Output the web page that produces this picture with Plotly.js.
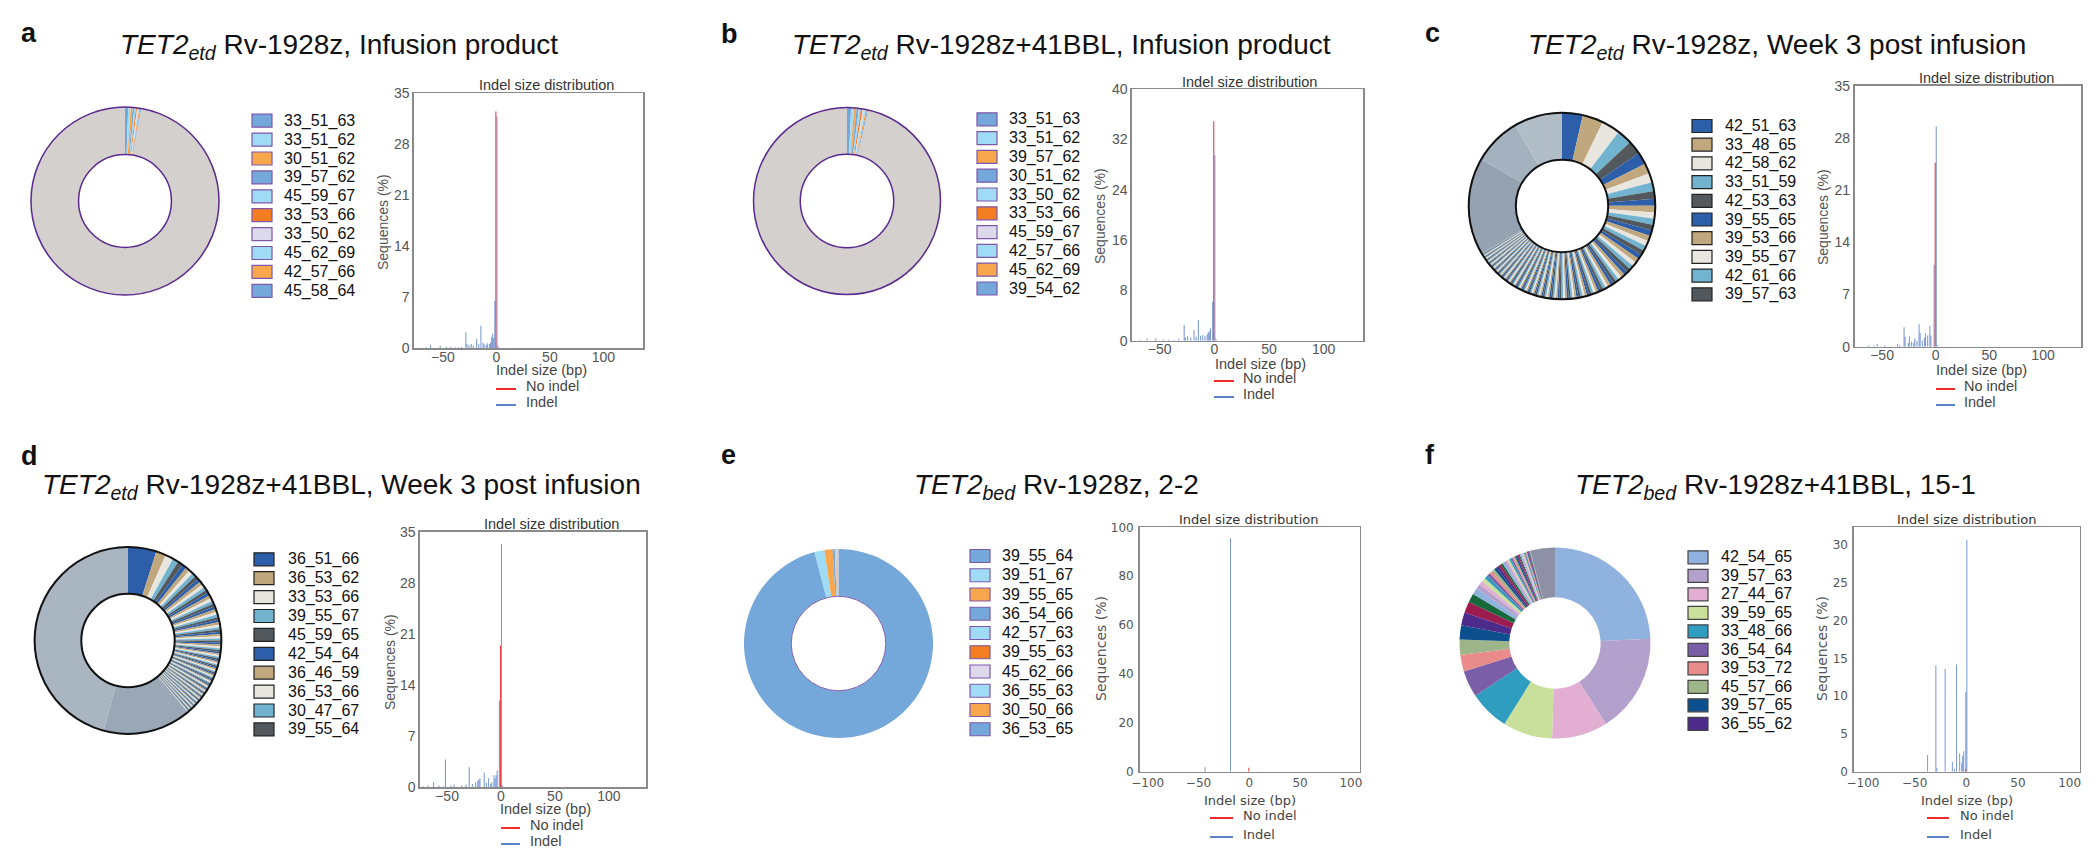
<!DOCTYPE html>
<html><head><meta charset="utf-8">
<script src="https://cdn.plot.ly/plotly-3.0.1.min.js"></script>
<style>html,body{margin:0;padding:0;background:#fff}#chart{width:2100px;height:865px}</style>
</head><body><div id="chart"></div>
<script>
// ================= DATA =================
// ---- panel a : TET2etd Rv-1928z, Infusion product ----
const a_pie_labels = ['33_51_63','33_51_62','30_51_62','39_57_62','45_59_67','33_53_66','33_50_62','45_62_69','42_57_66','45_58_64'];
const a_pie_values = [0.55,0.4,0.35,0.3,0.25,0.22,0.2,0.18,0.16,0.15];
const a_pie_minor = [];
const a_pie_rest = [97.24];
const a_indel_x = [-66,-62,-53,-47,-43,-39,-36,-33,-29,-28,-26,-24,-22,-19,-17,-15,-13,-12,-10,-9,-7,-6,-5,-4,-3,-2,0,1];
const a_indel_y = [0.15,0.45,0.35,0.2,0.2,0.15,0.15,0.2,2.2,0.6,0.45,0.6,0.4,1.3,0.6,3.1,0.8,0.6,0.45,0.7,0.6,0.8,1.5,2.0,1.4,6.5,31.8,0.35];
const a_noindel_x = [0];
const a_noindel_y = [32.5];

// ---- panel b : TET2etd Rv-1928z+41BBL, Infusion product ----
const b_pie_labels = ['33_51_63','33_51_62','39_57_62','30_51_62','33_50_62','33_53_66','45_59_67','42_57_66','45_62_69','39_54_62'];
const b_pie_values = [0.7,0.5,0.45,0.4,0.35,0.3,0.28,0.25,0.22,0.2];
const b_pie_minor = [];
const b_pie_rest = [96.35];
const b_indel_x = [-68,-62,-54,-47,-42,-37,-33,-28,-27,-25,-22,-19,-17,-15,-13,-11,-9,-7,-6,-5,-4,-2,0,1];
const b_indel_y = [0.15,0.35,0.4,0.2,0.2,0.15,0.3,2.5,0.5,0.7,0.5,1.7,0.6,3.3,0.8,0.9,0.7,1.0,1.3,1.5,2.0,6.2,29.5,0.3];
const b_noindel_x = [0];
const b_noindel_y = [34.9];

// ---- panel c : TET2etd Rv-1928z, Week 3 post infusion ----
const c_pie_labels = ['42_51_63','33_48_65','42_58_62','33_51_59','42_53_63','39_55_65','39_53_66','39_55_67','42_61_66','39_57_63'];
const c_pie_values = [3.6,3.6,3.2,2.6,2.4,2.1,1.8,1.6,1.55,1.3];
const c_pie_minor = [1.2,1.15,1.1,1.05,1.0,0.97,0.94,0.91,0.88,0.85,0.82,0.79,0.76,0.73,0.7,0.67,0.64,0.61,0.58,0.56,0.54,0.52,0.5,0.48,0.46,0.45,0.44,0.42,0.41,0.4,0.39,0.38,0.37,0.36,0.36,0.35,0.35,0.34,0.34,0.33,0.33,0.32,0.32,
  0.31,0.31,0.3,0.3,0.3,0.29,0.29,0.29,0.28,0.28,0.28,0.27,0.27,0.27,0.26,0.26,0.26,0.25,0.25,0.25,0.25,0.24,0.24,0.24,0.24,0.23,0.23,0.23,0.23,0.22,0.22,0.22,0.22,0.21,0.21,0.21,0.21,0.2,0.2,0.2,0.2,0.2,0.19,0.19,0.19,0.19,0.18,0.18,0.18,0.18,0.18,0.17,0.17,0.17,0.17,0.16,0.16,0.16,0.16,0.16,0.15,0.15,0.15,0.15,0.15,0.14,0.14,0.14,0.14,0.14,0.13,0.13,0.13,0.13,0.12,0.12,0.12,0.12,0.11,0.11,0.11,0.1,0.1,0.1];
const c_pie_rest = [16.9,8.3,8.34];
const c_indel_x = [-63,-58,-55,-48,-36,-34,-30,-29,-26,-25,-23,-21,-20,-18,-16,-15,-13,-11,-10,-8,-6,-5,-2,0,1];
const c_indel_y = [0.2,0.15,0.35,0.2,0.35,0.2,2.6,1.35,0.5,1.4,0.7,0.5,1.1,0.8,3.0,1.8,0.8,1.2,1.8,1.5,2.8,1.5,11.0,29.6,0.2];
const c_noindel_x = [0];
const c_noindel_y = [24.7];

// ---- panel d : TET2etd Rv-1928z+41BBL, Week 3 post infusion ----
const d_pie_labels = ['36_51_66','36_53_62','33_53_66','39_55_67','45_59_65','42_54_64','36_46_59','36_53_66','30_47_67','39_55_64'];
const d_pie_values = [4.9,1.7,1.4,1.0,0.9,0.8,0.75,0.7,0.68,0.65];
const d_pie_minor = [0.62,0.6,0.58,0.56,0.55,0.54,0.53,0.52,0.51,0.5,0.49,0.48,0.47,0.46,0.45,0.44,0.43,0.42,0.41,0.4,0.39,0.38,0.37,0.36,0.35,0.34,0.33,0.32,0.31,0.3,
  0.29,0.29,0.28,0.28,0.27,0.27,0.26,0.26,0.25,0.25,0.24,0.24,0.23,0.23,0.23,0.22,0.22,0.22,0.21,0.21,0.21,0.2,0.2,0.2,0.19,0.19,0.19,0.18,0.18,0.18,0.17,0.17,0.17,0.16,0.16,0.16,0.15,0.15,0.15,0.15,
  0.14,0.14,0.14,0.14,0.14,0.14,0.13,0.13,0.13,0.13,0.13,0.13,0.13,0.13,0.12,0.12,0.12,0.12,0.12,0.12,0.12,0.12,0.11,0.11,0.11,0.11,0.11,0.11,0.1,0.1];
const d_pie_rest = [15.0,45.7];
const d_indel_x = [-73,-68,-63,-58,-54,-52,-47,-44,-37,-33,-30,-27,-24,-22,-21,-20,-16,-14,-12,-10,-9,-7,-6,-5,-4,-2,0,1];
const d_indel_y = [0.15,0.25,0.7,0.25,0.1,3.8,0.25,0.4,0.25,0.35,2.75,0.45,0.7,0.9,1.05,1.25,2.0,0.6,1.25,0.5,0.7,1.7,1.2,1.6,2.3,11.9,33.3,0.2];
const d_noindel_x = [0];
const d_noindel_y = [19.4];

// ---- panel e : TET2bed Rv-1928z, 2-2 ----
const e_pie_labels = ['39_55_64','39_51_67','39_55_65','36_54_66','42_57_63','39_55_63','45_62_66','36_55_63','30_50_66','36_53_65'];
const e_pie_values = [95.9,1.7,1.4,0.35,0.15,0.1,0.08,0.07,0.06,0.05];
const e_pie_minor = [];
const e_pie_rest = [0.14];
const e_indel_x = [-44,-19];
const e_indel_y = [1.8,95.5];
const e_noindel_x = [0];
const e_noindel_y = [1.6];

// ---- panel f : TET2bed Rv-1928z+41BBL, 15-1 ----
const f_pie_labels = ['42_54_65','39_57_63','27_44_67','39_59_65','33_48_66','36_54_64','39_53_72','45_57_66','39_57_65','36_55_62'];
const f_pie_values = [24.3,16.8,9.4,8.4,6.8,4.5,2.8,2.6,2.4,2.2];
const f_pie_minor = [1.9,1.5,1.1,0.8,0.7,0.7,0.6,0.55,0.5,0.5,0.45,0.45,0.4,0.4,0.35,0.35,0.3,0.3,0.3,0.28,0.26,0.25,0.24,0.22,0.2,0.2,0.19,0.18,0.17,0.16,0.15,0.15,0.14,0.13,0.12,0.12,0.11,0.1,0.1];
const f_pie_rest = [4.2];
const f_indel_x = [-38,-30,-29,-21,-14,-12,-10,-7,-5,-4,-3,-1,0];
const f_indel_y = [2.2,14.1,0.5,13.6,1.3,0.4,14.2,2.4,1.2,2.1,2.7,10.5,30.7];
const f_noindel_x = [0];
const f_noindel_y = [0.3];

// ---- texts ----
const panel_letters = ['a','b','c','d','e','f'];
const panel_titles = [
  '<i>TET2</i><sub><i>etd</i></sub> Rv-1928z, Infusion product',
  '<i>TET2</i><sub><i>etd</i></sub> Rv-1928z+41BBL, Infusion product',
  '<i>TET2</i><sub><i>etd</i></sub> Rv-1928z, Week 3 post infusion',
  '<i>TET2</i><sub><i>etd</i></sub> Rv-1928z+41BBL, Week 3 post infusion',
  '<i>TET2</i><sub><i>bed</i></sub> Rv-1928z, 2-2',
  '<i>TET2</i><sub><i>bed</i></sub> Rv-1928z+41BBL, 15-1'
];
const hist_title = 'Indel size distribution';
const x_title = 'Indel size (bp)';
const y_title = 'Sequences (%)';
const series_names = ['No indel','Indel'];
const ticks_x_etd = [-50,0,50,100];
const ticks_x_bed = [-100,-50,0,50,100];
const ticks_y_a = [0,7,14,21,28,35];
const ticks_y_b = [0,8,16,24,32,40];
const ticks_y_e = [0,20,40,60,80,100];
const ticks_y_f = [0,5,10,15,20,25,30];

// ================= STYLES / POSITIONS =================
const W = 2100, H = 865;
const px = v => v / W, py = v => 1 - v / H;
const pal_abe = ['#74a7da','#a0dbf6','#f9a74c','#74a7da','#a0dbf6','#f47c21','#dcd9ec','#a0dbf6','#f9a74c','#74a7da'];
const pal_cd = ['#2c5ea9','#c1a77d','#e9e6df','#72b4d0','#53585d'];
const pal_f = ['#8fb2de','#b4a0cd','#e2afd3','#c9e09c','#2f9dbf','#7b5ea8','#e98b8a','#9eb58a','#0c4f8e','#4c2b8b','#9c1c50','#17693b'];
const ARIAL = 'Liberation Sans, Arial, sans-serif';
const DEJAVU = 'DejaVu Sans, sans-serif';

const P = [
 {pie:{lab:a_pie_labels,val:a_pie_values,minor:a_pie_minor,rest:a_pie_rest,pal:pal_abe,restC:['#d3d0cd']},
  ix:a_indel_x,iy:a_indel_y,nx:a_noindel_x,ny:a_noindel_y,
  letter:[20,33], title:[338.5,46.7], g:{cx:125,cy:201,R:94,hole:0.494}, ring:{c:'#5b2a8e',w:1.5,outer:true},
  leg:{sx:252,tx:283,y0:120.7,dy:18.9,edge:'#7e57a8'},
  h:{x0:414,x1:643,y0:93.3,y1:348.3,xr:[-77,137],yr:[0,35],xt:ticks_x_etd,yt:ticks_y_a,tt:[546,85],xtt:[541,370],ytt:[383,222],l:{x0:496,x1:516,y1:389,y2:405,tx:525}}, fam:'arial'},
 {pie:{lab:b_pie_labels,val:b_pie_values,minor:b_pie_minor,rest:b_pie_rest,pal:pal_abe,restC:['#d3d0cd']},
  ix:b_indel_x,iy:b_indel_y,nx:b_noindel_x,ny:b_noindel_y,
  letter:[720,34], title:[1061.5,46.7], g:{cx:847,cy:201,R:93.5,hole:0.5}, ring:{c:'#5b2a8e',w:1.5,outer:true},
  leg:{sx:977,tx:1008,y0:119.3,dy:18.8,edge:'#7e57a8'},
  h:{x0:1132,x1:1363,y0:89.3,y1:340.7,xr:[-75.2,135.9],yr:[0,40],xt:ticks_x_etd,yt:ticks_y_b,tt:[1249,82],xtt:[1260,364],ytt:[1100,216],l:{x0:1214,x1:1234,y1:381,y2:397,tx:1242}}, fam:'arial'},
 {pie:{lab:c_pie_labels,val:c_pie_values,minor:c_pie_minor,rest:c_pie_rest,pal:pal_cd,restC:['#95a2b2','#a4b1be','#b1bdc7']},
  ix:c_indel_x,iy:c_indel_y,nx:c_noindel_x,ny:c_noindel_y,
  letter:[1424,33], title:[1777,46.7], g:{cx:1562,cy:206,R:93.3,hole:0.495}, ring:{c:'#111',w:2,outer:true},
  leg:{sx:1692,tx:1724,y0:126,dy:18.7,edge:'#222'},
  h:{x0:1854.5,x1:2081,y0:86,y1:346.7,xr:[-75.7,135.4],yr:[0,35],xt:ticks_x_etd,yt:ticks_y_a,tt:[1986,78],xtt:[1981,370],ytt:[1823,217],l:{x0:1936,x1:1955,y1:389,y2:405,tx:1963}}, fam:'arial'},
 {pie:{lab:d_pie_labels,val:d_pie_values,minor:d_pie_minor,rest:d_pie_rest,pal:pal_cd,restC:['#9aa7b7','#a9b5c1']},
  ix:d_indel_x,iy:d_indel_y,nx:d_noindel_x,ny:d_noindel_y,
  letter:[20,456], title:[341.5,486.7], g:{cx:128,cy:640.5,R:93.4,hole:0.5}, ring:{c:'#111',w:2,outer:true},
  leg:{sx:254,tx:287,y0:559.3,dy:18.9,edge:'#222'},
  h:{x0:420,x1:646,y0:531.7,y1:787.3,xr:[-75.1,134.5],yr:[0,35],xt:ticks_x_etd,yt:ticks_y_a,tt:[551,524],xtt:[545,809],ytt:[390,662],l:{x0:501,x1:520,y1:828,y2:844,tx:529}}, fam:'arial'},
 {pie:{lab:e_pie_labels,val:e_pie_values,minor:e_pie_minor,rest:e_pie_rest,pal:pal_abe,restC:['#b9c3cf']},
  ix:e_indel_x,iy:e_indel_y,nx:e_noindel_x,ny:e_noindel_y,
  letter:[720,455], title:[1056,486.7], g:{cx:838.5,cy:643.5,R:94.5,hole:0.5}, ring:{c:'#8560b0',w:1,outer:false},
  leg:{sx:970,tx:1001,y0:556,dy:19.25,edge:'#7e57a8'},
  h:{x0:1139.7,x1:1359.8,y0:527.3,y1:771.7,xr:[-107.9,108.8],yr:[0,100],xt:ticks_x_bed,yt:ticks_y_e,tt:[1249,519],xtt:[1249.5,799],ytt:[1103,649],l:{x0:1210,x1:1233,y1:818,y2:837,tx:1242}}, fam:'dejavu'},
 {pie:{lab:f_pie_labels,val:f_pie_values,minor:f_pie_minor,rest:f_pie_rest,pal:pal_f,restC:['#8e91a6']},
  ix:f_indel_x,iy:f_indel_y,nx:f_noindel_x,ny:f_noindel_y,
  letter:[1424,455], title:[1775,486.7], g:{cx:1555,cy:643,R:95.5,hole:0.478}, ring:null,
  leg:{sx:1688,tx:1720,y0:557.3,dy:18.5,edge:'#444'},
  h:{x0:1854,x1:2079.5,y0:527.3,y1:771.7,xr:[-108.7,109.5],yr:[0,32.34],xt:ticks_x_bed,yt:ticks_y_f,tt:[1967,519],xtt:[1967,799],ytt:[1824,649],l:{x0:1927,x1:1949,y1:818,y2:837,tx:1959}}, fam:'dejavu'}
];

const data = [];
const shapes = [];
const annotations = [];
const layout = {
  width: W, height: H, margin:{l:0,r:0,t:0,b:0}, paper_bgcolor:'#fff', plot_bgcolor:'rgba(0,0,0,0)',
  showlegend:false, barmode:'overlay', font:{family:ARIAL, color:'#222'}
};

function ann(x, y, text, opt) {
  annotations.push(Object.assign({xref:'paper', yref:'paper', x:px(x), y:py(y), text:text, showarrow:false,
    xanchor:'center', yanchor:'middle', borderpad:0}, opt || {}));
}

P.forEach((p, k) => {
  const n = k + 1;
  const sx = n === 1 ? '' : String(n);
  // ---------- pie ----------
  const pd = p.pie;
  const vals = pd.val.concat(pd.minor, pd.rest);
  const labs = pd.lab.concat(pd.minor.map((_, i) => 'minor ' + (i + 1)), pd.rest.map((_, i) => 'other ' + (i + 1)));
  const cols = [];
  for (let i = 0; i < pd.lab.length + pd.minor.length; i++) cols.push(pd.pal[i % pd.pal.length]);
  pd.restC.forEach(c => cols.push(c));
  const g = p.g;
  data.push({type:'pie', labels:labs, values:vals, sort:false, direction:'clockwise', rotation:0, hole:g.hole,
    textinfo:'none', textposition:'none', hoverinfo:'label+percent', marker:{colors:cols, line:{width:0}},
    domain:{x:[px(g.cx - g.R), px(g.cx + g.R)], y:[py(g.cy + g.R), py(g.cy - g.R)]}, showlegend:false});
  if (p.ring) {
    const rs = p.ring.outer ? [g.R, g.R * g.hole] : [g.R * g.hole];
    rs.forEach(r => shapes.push({type:'circle', xref:'paper', yref:'paper', x0:px(g.cx - r), x1:px(g.cx + r),
      y0:py(g.cy + r), y1:py(g.cy - r), line:{color:p.ring.c, width:p.ring.w}, fillcolor:'rgba(0,0,0,0)'}));
  }
  // ---------- pie legend ----------
  pd.lab.forEach((lab, i) => {
    const yy = p.leg.y0 + i * p.leg.dy;
    shapes.push({type:'rect', xref:'paper', yref:'paper', x0:px(p.leg.sx), x1:px(p.leg.sx + 20),
      y0:py(yy + 6.5), y1:py(yy - 6.5), fillcolor:cols[i], line:{color:p.leg.edge, width:1.2}});
    ann(p.leg.tx, yy, lab, {xanchor:'left', font:{family:ARIAL, size:16, color:'#111'}});
  });
  // ---------- letter & title ----------
  ann(p.letter[0], p.letter[1], '<b>' + panel_letters[k] + '</b>', {xanchor:'left', font:{family:ARIAL, size:27, color:'#111'}});
  ann(p.title[0], p.title[1], panel_titles[k], {font:{family:ARIAL, size:28, color:'#111'}});
  // ---------- histogram ----------
  const h = p.h;
  const dj = p.fam === 'dejavu';
  const fam = dj ? DEJAVU : ARIAL;
  const tickF = {family:fam, size: dj ? 12 : 14, color:'#555'};
  const axBase = {showline:true, mirror:true, linecolor:'#8a8a8a', linewidth:1.6, showgrid:false, zeroline:false,
    ticks:'', tickfont:tickF, fixedrange:true};
  layout['xaxis' + sx] = Object.assign({}, axBase, {domain:[px(h.x0), px(h.x1)], range:h.xr, tickvals:h.xt, anchor:'y' + sx, ticklabelstandoff: dj ? -1 : -5});
  layout['yaxis' + sx] = Object.assign({}, axBase, {domain:[py(h.y1), py(h.y0)], range:h.yr, tickvals:h.yt, anchor:'x' + sx, ticklabelstandoff: dj ? 2 : 0});
  data.push({type:'bar', x:p.ix, y:p.iy, xaxis:'x' + sx, yaxis:'y' + sx, width:1, offset:0, name:series_names[1],
    marker:{color:'rgba(78,118,200,0.72)', line:{width:0}}, showlegend:false});
  data.push({type:'bar', x:p.nx, y:p.ny, xaxis:'x' + sx, yaxis:'y' + sx, width:1, offset:-1, name:series_names[0],
    marker:{color:'rgba(228,30,40,0.85)', line:{width:0}}, showlegend:false});
  const tF = {family:fam, size: dj ? 13 : 14.5, color:'#333'};
  ann(h.tt[0], h.tt[1], hist_title, {font:tF});
  ann(h.xtt[0], h.xtt[1] + (dj ? 1 : 0), x_title, {font:{family:fam, size: dj ? 13 : 14.5, color:'#444'}});
  ann(h.ytt[0] - (dj ? 2 : 0), h.ytt[1], y_title, {textangle:-90, font:{family:fam, size:14, color:'#555'}});
  // series legend
  shapes.push({type:'line', xref:'paper', yref:'paper', x0:px(h.l.x0), x1:px(h.l.x1), y0:py(h.l.y1), y1:py(h.l.y1), line:{color:'#ee2a2a', width:2}});
  shapes.push({type:'line', xref:'paper', yref:'paper', x0:px(h.l.x0), x1:px(h.l.x1), y0:py(h.l.y2), y1:py(h.l.y2), line:{color:'#5a83c8', width:2}});
  ann(h.l.tx, h.l.y1 - 3, series_names[0], {xanchor:'left', font:{family:fam, size: dj ? 13 : 14.5, color:'#444'}});
  ann(h.l.tx, h.l.y2 - 3, series_names[1], {xanchor:'left', font:{family:fam, size: dj ? 13 : 14.5, color:'#444'}});
});

layout.shapes = shapes;
layout.annotations = annotations;
Plotly.newPlot('chart', data, layout, {staticPlot:true, displayModeBar:false});
</script></body></html>
